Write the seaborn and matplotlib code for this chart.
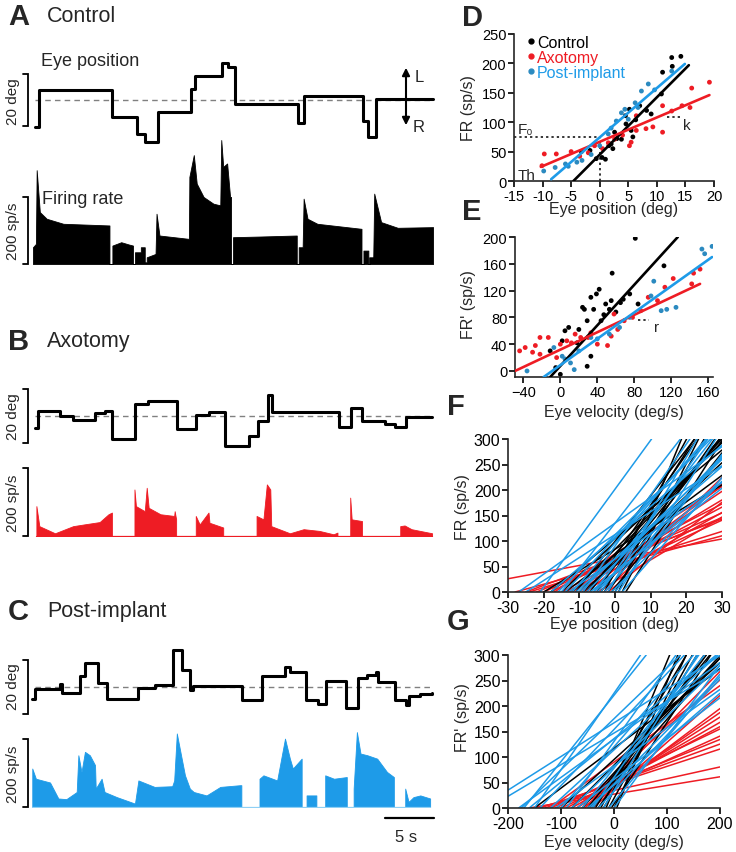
import numpy as np
import pandas as pd
import matplotlib
matplotlib.use("Agg")
import matplotlib.pyplot as plt
import seaborn as sns
from matplotlib.lines import Line2D

# ---- colours ----
RED = "#ee1c24"
BLUE = "#1e9be8"
BLUE_DOT = "#2b8ac0"
GROUPS = ["Control", "Axotomy", "Post-implant"]
LINE_COLORS = {"Control": "black", "Axotomy": RED, "Post-implant": BLUE}
DOT_COLORS = {"Control": "black", "Axotomy": RED, "Post-implant": BLUE_DOT}

# ---- A: control example (time in s) ----
a_eye_t = [0.0, 0.4, 7.9, 10.4, 11.2, 12.6, 15.9, 16.3, 19.1, 19.7, 20.4, 26.8, 27.4, 33.5, 34.0, 34.8, 40.6]
a_eye_deg = [-10.5, 4.0, -6.4, -13, -16, -4.4, 4.4, 9.4, 14.4, 12.8, -1.7, -9, 1.7, -8, -14, 0.6, 0.6]
# firing rate: repeated times mark vertical jumps
a_fr_t = [-0.2, -0.2, 0.1, 0.18, 0.5, 1.2, 2.9, 7.6, 7.6, 7.9, 7.9, 8.8, 9.6, 10.0, 10.0, 10.2, 10.2,
          10.8, 10.8, 11.2, 11.2, 11.4, 11.4, 12.3, 12.4, 12.7, 15.7, 15.75, 16.2, 16.5, 17.2, 18.2,
          18.9, 19.0, 19.2, 19.6, 19.9, 20.0, 20.0, 20.2, 20.2, 23.0, 26.7, 26.7, 26.9, 26.9, 27.3,
          27.4, 27.8, 28.8, 33.3, 33.3, 33.5, 33.5, 34.0, 34.0, 34.1, 34.1, 34.5, 34.6, 35.3, 37.0,
          40.6, 40.6]
a_fr = [0, 50, 60, 280, 155, 135, 120, 115, 0, 0, 55, 65, 58, 55, 0, 0, 35,
        35, 50, 50, 5, 5, 20, 30, 150, 85, 75, 260, 325, 240, 200, 180,
        175, 370, 290, 300, 200, 200, 0, 0, 80, 82, 85, 0, 0, 50, 50,
        195, 135, 120, 105, 0, 0, 40, 40, 0, 0, 20, 20, 210, 125, 108,
        110, 0]

# ---- B: axotomy example ----
b_eye_t = [0.0, 0.3, 2.6, 3.9, 6.1, 7.1, 7.9, 10.2, 11.5, 14.5, 16.4, 17.7, 19.4, 21.8, 22.7, 23.8,
           24.2, 31.0, 32.2, 33.4, 35.7, 36.7, 37.8, 40.5]
b_eye_deg = [-4.4, 1.9, 0, -1.5, 1.0, 2.0, -8.5, 4.5, 5.7, -5, 0.4, 1.5, -11, -7.4, -2, 7.8,
             1.5, -4.1, 3.0, -2.0, -3.0, -4.0, -0.4, -0.4]
b_fr_t = [0.15, 0.15, 0.45, 2.05, 3.9, 5.0, 6.6, 7.5, 7.85, 7.85, 10.15, 10.15, 10.3, 11.2, 11.4,
          11.6, 12.8, 14.2, 14.25, 14.4, 14.4, 16.4, 16.4, 16.8, 17.7, 17.8, 19.2, 19.2, 22.6, 22.6,
          23.3, 23.65, 24.0, 24.1, 26.0, 27.4, 29.0, 30.45, 30.85, 30.85, 32.15, 32.15, 32.3, 33.35,
          33.35, 37.25, 37.25, 37.7, 38.4, 40.5, 40.5]
b_fr = [0, 88, 29, 8, 29, 34, 41, 64, 69, 0, 0, 137, 88, 73, 142,
        83, 64, 59, 73, 49, 0, 0, 59, 34, 69, 39, 25, 0, 0, 59,
        49, 152, 137, 29, 8, 20, 15, 5, 10, 0, 0, 113, 49, 44,
        0, 0, 29, 31, 20, 8, 0]

# ---- C: post-implant example ----
c_eye_t = [-0.3, 0.0, 2.6, 2.8, 4.6, 5.1, 6.4, 7.3, 10.5, 12.2, 14.1, 15.0, 15.8, 16.1, 21.1, 23.2,
           25.5, 26.0, 27.6, 28.9, 29.7, 31.7, 32.9, 33.9, 34.8, 35.0, 36.7, 37.8, 38.1, 39.3, 40.5]
c_eye_deg = [-4.4, -0.7, 1.0, -2.3, 4.0, 8.9, 1.6, -4.4, -0.3, 0.7, 13.7, 6.3, -1, 0.4, -5, 4,
             7.4, 5.6, -5, -6.3, 2.3, -8, 3.4, 4.5, 5.5, 2, -5, -6.7, -3.4, -2.8, -2.3]
c_fr_t = [-0.27, -0.27, 0.1, 1.54, 2.39, 3.2, 4.26, 4.43, 4.75, 5.1, 5.6, 6.13, 6.2, 6.8, 7.1, 8.35,
          10.2, 10.55, 12.2, 14.0, 14.2, 14.47, 14.9, 15.3, 15.8, 16.2, 17.5, 18.9, 20.9, 21.05,
          21.05, 22.9, 22.9, 23.3, 24.7, 25.5, 26.0, 26.3, 27.2, 27.2, 27.7, 27.7, 28.7, 28.7, 29.6,
          29.6, 30.5, 31.8, 31.8, 32.5, 32.5, 32.83, 33.2, 33.9, 34.9, 35.9, 36.6, 36.6, 37.76,
          37.76, 38.1, 38.6, 39.3, 40.3, 40.3]
c_fr = [0, 113, 83, 72, 25, 23, 44, 152, 103, 162, 152, 123, 54, 83, 44, 29,
        10, 78, 59, 61, 78, 216, 152, 93, 54, 44, 34, 59, 64, 64,
        0, 0, 83, 93, 78, 201, 142, 113, 142, 0, 0, 34, 34, 0, 0,
        93, 83, 88, 0, 0, 54, 220, 157, 152, 142, 103, 88, 0, 0,
        54, 15, 29, 34, 25, 0]

# ---- D: firing rate vs eye position ----
ctrl_pos_x = [-3.2, -1.7, -0.6, 0.4, 1.0, 1.6, 2.3, 2.6, 3.8, 4.6, 5.5, 5.2, 4.5, 6.3, 7.0, 9.0, 10.8,
              11.0, 12.7, 12.6, 14.2, 8.2, 3.0, 2.0, 5.8]
ctrl_pos_y = [50, 52, 38, 40, 37, 60, 55, 83, 71, 97, 86, 122, 111, 104, 128, 114, 148,
              185, 195, 210, 212, 120, 72, 63, 75]
axot_pos_x = [-10.1, -9.7, -7.6, -5.0, -3.5, -0.9, 0.5, 2.6, 4.0, 5.2, 5.5, 6.4, 6.4, 8.1, 9.3, 11.0,
              11.0, 12.6, 14.4, 15.8, 16.1, 19.2, 1.5, -2.0]
axot_pos_y = [26, 46, 46, 50, 42, 60, 55, 71, 78, 60, 66, 86, 111, 89, 92, 83,
              128, 119, 128, 125, 158, 168, 65, 48]
post_pos_x = [-9.8, -7.8, -6.0, -4.0, -3.1, -1.5, 0.0, 1.5, 2.9, 3.8, 4.4, 5.0, 6.2, 6.7, 7.3, 8.5,
              9.6, 12.6, -5.5, 2.0]
post_pos_y = [17, 23, 29, 32, 35, 45, 60, 80, 102, 116, 122, 105, 133, 125, 153, 165,
              155, 187, 25, 90]
# fitted lines: threshold, slope, x start, x end
pos_fit = {"Control": (-4.6, 9.75, -4.6, 15.6),
           "Axotomy": (-16.1, 4.14, -10.3, 19.2),
           "Post-implant": (-8.86, 8.38, -8.5, 14.9)}

# ---- E: firing rate vs eye velocity ----
ctrl_vel_x = [81, 112, 56, 42, 39, 33, 24, 26, 36, 49, 53, 55, 65, 68, 75, 84, 9, 5, 20, 18,
              2, 33, 29, 0, -5, -11, 44, 29, 60, 47]
ctrl_vel_y = [198, 157, 146, 122, 115, 110, 95, 92, 92, 100, 92, 105, 102, 107, 115, 100, 65, 60, 62, 42,
              45, 22, 7, -5, 5, 30, 75, 75, 88, 84]
axot_vel_x = [-44, -38, -27, -13, -22, -4, 7, 16, 22, 33, 40, 51, 55, 58, 69, 87, 95, 105, 113, 122,
              142, 144, 151, -22, -30, 0, 12, 30, 62, 78]
axot_vel_y = [30, 35, 38, 50, 25, 20, 45, 55, 50, 57, 40, 38, 52, 85, 75, 90, 110, 105, 125, 138,
              130, 146, 152, 50, 28, 40, 42, 50, 62, 80]
post_vel_x = [-36, -7, 2, 11, 15, 33, 53, 64, 75, 101, 109, 115, 125, 153, 156, 164, 98, 5, 20, 40]
post_vel_y = [0, 35, 22, 12, 2, 50, 55, 65, 80, 134, 90, 92, 95, 182, 175, 186, 112, 18, 30, 48]
vel_fit = {"Control": (-4.96, 1.516, -10.9, 127),
           "Axotomy": (-49, 0.65, -49, 151),
           "Post-implant": (-8.85, 0.984, -18, 164)}

# ---- F: population fits, eye position (threshold deg, slope sp/s/deg) ----
f_axot_th = [-50, -28, -25, -22, -20, -18, -15, -13, -12, -10, -8, -6, -5, -14, -3, -24, -17, -9, -2]
f_axot_k = [1.3, 1.9, 2.6, 2.8, 3.1, 3.6, 3.7, 4.2, 4.7, 5.2, 5.6, 6.0, 4.2, 3.2, 6.8, 2.2, 4.4, 4.0, 5.5]
f_ctrl_th = [1, 2, 0, -2, -4, -6, -8, -10, -12, -15, -18, -20, -5, -3, -7, -1, -9, -11, 3, -14]
f_ctrl_k = [17, 14, 12, 10, 9, 8.5, 8, 7.5, 7, 6.5, 5.8, 4.2, 11, 13, 10, 8.8, 6.5, 9, 11, 5.2]
f_post_th = [-21, -27, -25, -18, -16, -14, -12, -10, -8, -6, -5, -4, -3, -2, -1, 0, 1, -7, -11, -9,
             -13, -15, 2, -6]
f_post_k = [9.6, 5.0, 4.5, 6.0, 7, 7.5, 8, 6.5, 7, 9, 7.5, 10, 8, 12, 7, 9, 11, 5.5, 6, 10,
            5, 9, 8, 6]

# ---- G: population fits, eye velocity (threshold deg/s, slope sp/s per deg/s) ----
g_axot_th = [-160, -150, -140, -130, -120, -100, -110, -90, -80, -70, -60, -50, -40, -70, -120, -55]
g_axot_k = [0.17, 0.23, 0.34, 0.38, 0.42, 0.47, 0.5, 0.55, 0.6, 0.66, 0.72, 0.78, 0.92, 0.93, 0.75, 1.05]
g_ctrl_th = [5, 0, -10, -20, -30, -40, -50, -60, -80, -100, -150, -25, -15, -5, -45, -35]
g_ctrl_k = [2.6, 2.2, 1.9, 1.7, 1.5, 1.4, 1.3, 1.15, 1.05, 0.95, 0.78, 2.0, 2.5, 1.6, 1.2, 1.75]
g_post_th = [-253, -237, -180, -175, -170, -160, -140, -120, -100, -80, -60, -50, -40, -30, -20, -10,
             0, -70, -90, -110, -150, -45]
g_post_k = [0.66, 0.62, 0.75, 1.0, 1.3, 0.85, 1.1, 0.95, 1.2, 1.0, 1.3, 0.9, 1.5, 1.1, 1.7, 1.25,
            1.4, 0.8, 1.45, 0.75, 1.5, 1.05]

# ---- Plot Style ----
sns.set_theme(style="ticks")
plt.rcParams["font.family"] = ["Liberation Sans", "DejaVu Sans"]
plt.rcParams["axes.linewidth"] = 1.2
plt.rcParams["axes.unicode_minus"] = False

W, H = 736, 853
fig = plt.figure(figsize=(W / 100, H / 100), dpi=100)


def box(x0, y0, x1, y1):
    # pixel box (top-left origin) -> figure rect
    return [x0 / W, 1 - y1 / H, (x1 - x0) / W, (y1 - y0) / H]


def px(x, y):
    return (x / W, 1 - y / H)


T_LIM = (-0.4, 41.0)


def bracket(ax, lo, hi):
    ax.plot([-1.25, -0.75, -0.75, -1.25], [lo, lo, hi, hi], color="black", lw=1.3,
            clip_on=False, solid_joinstyle="miter")


def eye_panel(b, ylim, t, deg):
    ax = fig.add_axes(box(*b))
    ax.set_xlim(T_LIM)
    ax.set_ylim(ylim)
    ax.axis("off")
    ax.plot([0, 40.6], [0, 0], ls=(0, (4, 3)), color="#808080", lw=1)
    sns.lineplot(x=t, y=deg, ax=ax, color="black", lw=2.2, drawstyle="steps-post",
                 sort=False, estimator=None)
    bracket(ax, -10, 10)
    return ax


def rate_panel(b, ylim, t, fr, color, baseline=None):
    ax = fig.add_axes(box(*b))
    ax.set_xlim(T_LIM)
    ax.set_ylim(ylim)
    ax.axis("off")
    ax.fill_between(t, fr, color=color, lw=0.6, edgecolor=color)
    if baseline:
        ax.plot([t[0], t[-1]], [0, 0], color=baseline, lw=0.9)
    bracket(ax, 0, 200)
    return ax


# ---- Left column: example traces ----
eye_panel((31, 55, 437, 150), (-18.8, 17.7), a_eye_t, a_eye_deg)
rate_panel((31, 138, 437, 266), (-3, 379), a_fr_t, a_fr, "black")
eye_panel((31, 385, 437, 452), (-13, 11.9), b_eye_t, b_eye_deg)
rate_panel((31, 465, 437, 538), (-3, 212), b_fr_t, b_fr, RED, baseline=RED)
eye_panel((31, 645, 437, 720), (-11.9, 15.9), c_eye_t, c_eye_deg)
ax_c = rate_panel((31, 728, 437, 809), (-3, 235), c_fr_t, c_fr, BLUE, baseline="#8fd0f5")
ax_c.plot([35.7, 40.7], [-32, -32], color="black", lw=1.6, clip_on=False)
fig.text(*px(406, 838), "5 s", fontsize=12, ha="center", va="center")

for y, letter, title in [(17, "A", "Control"), (342, "B", "Axotomy"), (612, "C", "Post-implant")]:
    fig.text(*px(8, y), letter, fontsize=21, fontweight="bold", ha="left", va="center")
    fig.text(*px(47, y), title, fontsize=15.5, ha="left", va="center")

fig.text(*px(41, 62), "Eye position", fontsize=13, ha="left", va="center")
fig.text(*px(42, 199), "Firing rate", fontsize=13, ha="left", va="center")
for y_deg, y_sp in [(102, 231), (417, 503), (687, 774)]:
    fig.text(*px(13, y_deg), "20 deg", fontsize=11, rotation=90, ha="center", va="center")
    fig.text(*px(13, y_sp), "200 sp/s", fontsize=11, rotation=90, ha="center", va="center")

# L/R arrow
fig.add_artist(matplotlib.patches.FancyArrowPatch(
    px(406, 129), px(406, 66), transform=fig.transFigure, arrowstyle="<|-|>",
    mutation_scale=11, color="black", lw=1.5))
fig.text(*px(419, 77), "L", fontsize=12, ha="center", va="center")
fig.text(*px(419, 127), "R", fontsize=12, ha="center", va="center")


# ---- Right column ----
def style_axes(ax, size):
    sns.despine(ax=ax)
    ax.tick_params(direction="out", length=4, width=1.2, labelsize=size, pad=1.5, colors="black")
    ax.set_xlabel("")
    ax.set_ylabel("")


def scatter_fits(ax, xs, ys, fits):
    df = pd.concat([pd.DataFrame({"x": x, "y": y, "group": g}) for g, x, y in zip(GROUPS, xs, ys)])
    sns.scatterplot(data=df, x="x", y="y", hue="group", palette=DOT_COLORS, s=12,
                    linewidth=0, legend=False, ax=ax, zorder=2)
    for g in GROUPS:
        th, k, x0, x1 = fits[g]
        xx = np.array([x0, x1])
        ax.plot(xx, k * (xx - th), color=LINE_COLORS[g], lw=1.9, zorder=3)


# D
ax_d = fig.add_axes(box(514, 35, 714, 182))
ax_d.plot([-15, 0], [75, 75], ls=(0, (1.5, 2)), color="black", lw=1.1, zorder=1)
ax_d.plot([0, 0], [0, 75], ls=(0, (1.5, 2)), color="black", lw=1.1, zorder=1)
ax_d.plot([11.8, 14.5], [108, 108], ls=(0, (1.5, 2)), color="black", lw=1.1, zorder=1)
scatter_fits(ax_d, [ctrl_pos_x, axot_pos_x, post_pos_x], [ctrl_pos_y, axot_pos_y, post_pos_y], pos_fit)
ax_d.set_xlim(-15, 20)
ax_d.set_ylim(0, 250)
ax_d.set_xticks(range(-15, 21, 5))
ax_d.set_yticks(range(0, 251, 50))
style_axes(ax_d, 10.5)
ax_d.text(-14.3, 88, "F\u2080", fontsize=11, ha="left", va="center",
          family=["Liberation Sans", "DejaVu Sans"])
ax_d.text(-14.3, 10, "Th", fontsize=11, ha="left", va="center")
ax_d.text(15.2, 95, "k", fontsize=11, ha="center", va="center")
handles = [Line2D([], [], marker="o", ls="", color=DOT_COLORS[g], markersize=3.5) for g in GROUPS]
ax_d.legend(handles, GROUPS, loc="upper left", bbox_to_anchor=(0.02, 1.04), frameon=False,
            fontsize=11.5, handletextpad=0.0, labelspacing=0.0, borderaxespad=0, handlelength=0.8,
            labelcolor=[LINE_COLORS[g] for g in GROUPS])

# E
ax_e = fig.add_axes(box(515, 238, 713, 378))
ax_e.plot([84, 96], [76, 76], ls=(0, (1.5, 2)), color="black", lw=1.1, zorder=1)
scatter_fits(ax_e, [ctrl_vel_x, axot_vel_x, post_vel_x], [ctrl_vel_y, axot_vel_y, post_vel_y], vel_fit)
ax_e.set_xlim(-49, 165)
ax_e.set_ylim(-9, 200)
ax_e.set_xticks(range(-40, 161, 40))
ax_e.set_yticks(range(0, 201, 40))
ax_e.set_xticklabels(["\u221240", "0", "40", "80", "120", "160"])
style_axes(ax_e, 10.5)
ax_e.text(104, 66, "r", fontsize=11, ha="center", va="center")

# F and G
for b, xlim, xticks, groups in [
        ((508, 440, 722, 593), (-30, 30), range(-30, 31, 10),
         [(f_axot_th, f_axot_k, RED), (f_ctrl_th, f_ctrl_k, "black"), (f_post_th, f_post_k, BLUE)]),
        ((508, 656, 720, 809), (-200, 200), range(-200, 201, 100),
         [(g_axot_th, g_axot_k, RED), (g_ctrl_th, g_ctrl_k, "black"), (g_post_th, g_post_k, BLUE)])]:
    ax = fig.add_axes(box(*b))
    for ths, ks, c in groups:
        for th, k in zip(ths, ks):
            ax.axline((th, 0), slope=k, color=c, lw=1.1)
    ax.set_xlim(xlim)
    ax.set_ylim(0, 300)
    ax.set_xticks(list(xticks))
    ax.set_yticks(range(0, 301, 50))
    style_axes(ax, 11.5)

# right column labels
for (x, y), t in [((472, 18), "D"), ((472, 212), "E"), ((456, 407), "F"), ((458, 622), "G")]:
    fig.text(*px(x, y), t, fontsize=21, fontweight="bold", ha="center", va="center")
for (x, y), t in [((469, 108), "FR (sp/s)"), ((469, 305), "FR' (sp/s)"),
                  ((463, 507), "FR (sp/s)"), ((463, 718), "FR' (sp/s)")]:
    fig.text(*px(x, y), t, fontsize=11.5, rotation=90, ha="center", va="center")
for (x, y), t in [((614, 210), "Eye position (deg)"), ((614, 412), "Eye velocity (deg/s)"),
                  ((615, 625), "Eye position (deg)"), ((614, 843), "Eye velocity (deg/s)")]:
    fig.text(*px(x, y), t, fontsize=11.5, ha="center", va="center")

plt.savefig("out.png", dpi=100)
